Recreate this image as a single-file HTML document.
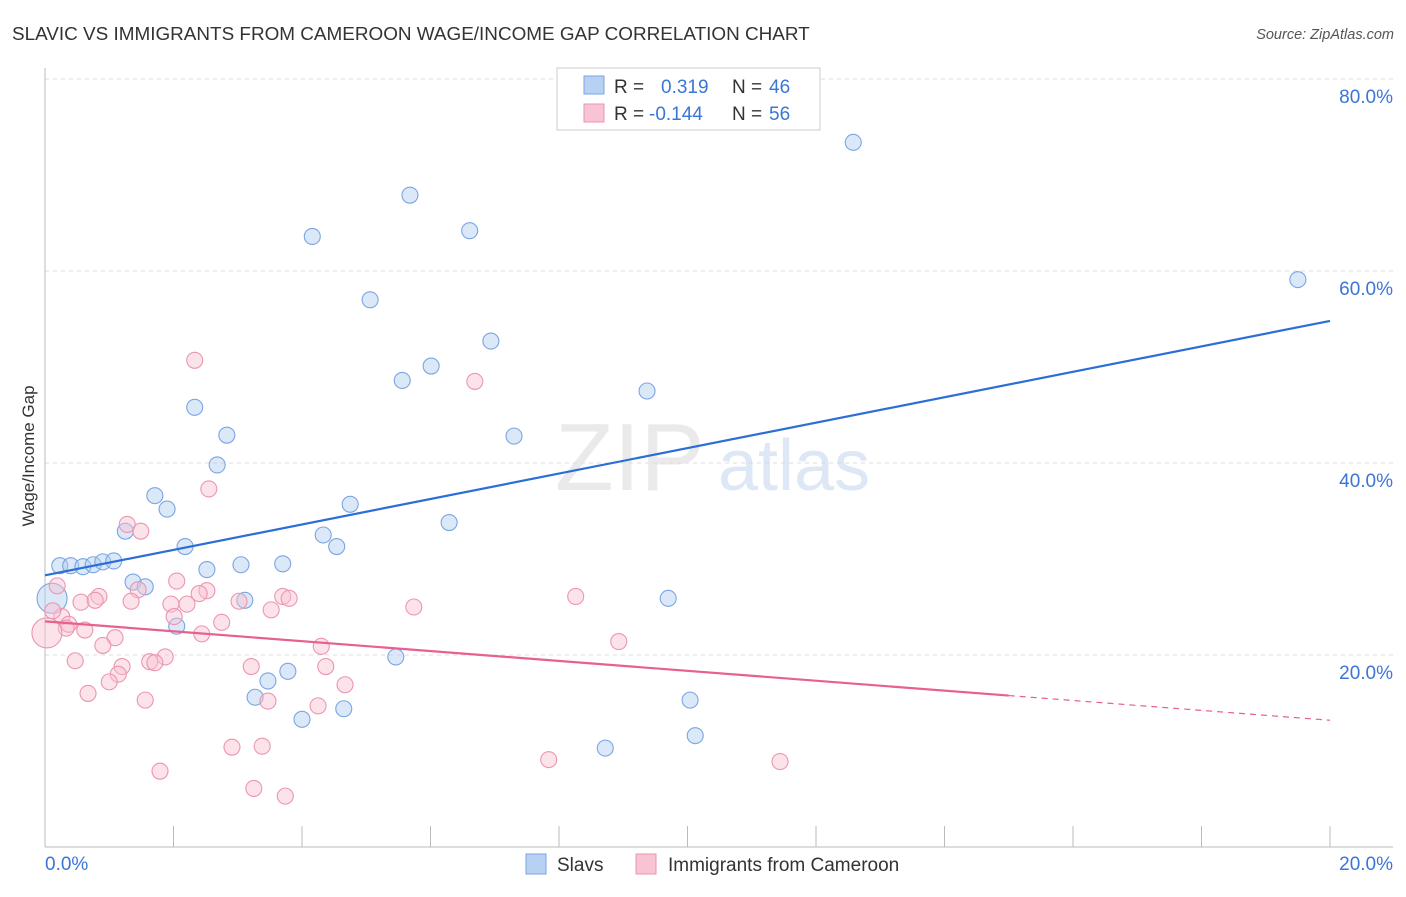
<!DOCTYPE html>
<html><head><meta charset="utf-8"><style>
body{margin:0;background:#fff;font-family:"Liberation Sans",sans-serif;}
svg text{font-family:"Liberation Sans",sans-serif;}
</style></head><body>
<svg id="chart" width="1406" height="892" xmlns="http://www.w3.org/2000/svg">
<text x="12" y="40" font-size="18.9" fill="#333">SLAVIC VS IMMIGRANTS FROM CAMEROON WAGE/INCOME GAP CORRELATION CHART</text>
<text x="1394" y="39" font-size="14.5" fill="#555" text-anchor="end" font-style="italic">Source: ZipAtlas.com</text>
<g id="grid"></g>
<g><text x="555" y="490" font-size="96" fill="#ddd" font-family="Liberation Serif" opacity="0.6">ZIP</text><text x="718" y="490" font-size="72" fill="#c7d8ef" opacity="0.6">atlas</text></g>
<text transform="translate(34,456) rotate(-90)" font-size="17" fill="#333" text-anchor="middle">Wage/Income Gap</text>
<g id="pts"></g>
<g id="trends"></g>
<g>
<rect x="557" y="68" width="263" height="62" fill="#fff" stroke="#ccc"/>
<rect x="584" y="76" width="20" height="18" fill="#b7d1f3" stroke="#7aa5e3"/>
<rect x="584" y="104" width="20" height="18" fill="#f8c4d3" stroke="#e996b0"/>
<text x="614" y="93" font-size="19" fill="#333">R =</text><text x="661" y="93" font-size="19" fill="#3a76d6">0.319</text>
<text x="732" y="93" font-size="19" fill="#333">N =</text><text x="769" y="93" font-size="19" fill="#3a76d6">46</text>
<text x="614" y="120" font-size="19" fill="#333">R =</text><text x="649" y="120" font-size="19" fill="#3a76d6">-0.144</text>
<text x="732" y="120" font-size="19" fill="#333">N =</text><text x="769" y="120" font-size="19" fill="#3a76d6">56</text>
</g>
<g>
<rect x="526" y="854" width="20" height="20" fill="#b7d1f3" stroke="#7aa5e3"/>
<text x="557" y="871" font-size="19" fill="#333">Slavs</text>
<rect x="636" y="854" width="20" height="20" fill="#f8c4d3" stroke="#e996b0"/>
<text x="668" y="871" font-size="19" fill="#333">Immigrants from Cameroon</text>
</g>
</svg>
<script>
const xTicks=[0,20];
const yTicks=[20,40,60,80];
const blueX=[12.58,19.50,5.68,4.16,6.61,5.06,6.94,5.56,6.01,9.37,2.33,2.83,7.30,2.68,1.71,1.90,4.75,6.29,1.25,4.33,4.54,2.18,0.23,0.40,0.59,0.75,0.90,1.07,3.70,3.05,2.52,1.37,1.56,3.11,9.70,2.05,5.46,3.78,3.47,3.27,10.04,4.65,4.00,10.12,8.72,0.11];
const blueY=[73.4,59.1,67.9,63.6,64.2,57.0,52.7,48.6,50.1,47.5,45.8,42.9,42.8,39.8,36.6,35.2,35.7,33.8,32.9,32.5,31.3,31.3,29.3,29.3,29.2,29.4,29.7,29.8,29.5,29.4,28.9,27.6,27.1,25.7,25.9,23.0,19.8,18.3,17.3,15.6,15.3,14.4,13.3,11.6,10.3,25.9];
const pinkX=[2.33,6.69,2.55,1.28,1.49,0.19,2.05,1.45,0.84,0.56,0.78,1.34,1.96,2.21,2.52,2.40,3.02,3.70,3.80,5.74,8.26,3.52,0.26,0.37,0.33,0.62,2.01,2.75,2.44,1.09,0.90,4.30,8.93,0.03,1.87,1.63,1.71,0.47,1.20,1.14,3.21,4.37,1.00,4.67,0.67,1.56,3.47,4.25,2.91,3.38,1.79,7.84,11.44,3.25,3.74,0.12];
const pinkY=[50.7,48.5,37.3,33.6,32.9,27.2,27.7,26.8,26.1,25.5,25.7,25.6,25.3,25.3,26.7,26.4,25.6,26.1,25.9,25.0,26.1,24.7,24.0,23.2,22.8,22.6,24.0,23.4,22.2,21.8,21.0,20.9,21.4,22.3,19.8,19.3,19.2,19.4,18.8,18.0,18.8,18.8,17.2,16.9,16.0,15.3,15.2,14.7,10.4,10.5,7.9,9.1,8.9,6.1,5.3,24.6];
const blueBig=45, pinkBig=33;
const blueTrend=[28.3,54.8];
const pinkTrend=[23.5,13.2];
const pinkSolidEnd=15.0;
const NS="http://www.w3.org/2000/svg";
const sx=v=>45+v*64.25, sy=v=>847-v*9.6;
function mk(t,a,p){const e=document.createElementNS(NS,t);for(const k in a)e.setAttribute(k,a[k]);p.appendChild(e);return e;}
const grid=document.getElementById('grid');
yTicks.forEach(v=>{
 const l=mk('line',{x1:45,x2:1393,y1:sy(v),y2:sy(v),stroke:'#ddd','stroke-dasharray':'4,4'},grid);
 
 
 const t=mk('text',{x:1393,y:sy(v)+24,'font-size':19,fill:'#3a76d6','text-anchor':'end'},grid);t.textContent=v.toFixed(1)+'%';
 
 
});
mk('line',{x1:45,x2:1393,y1:847,y2:847,stroke:'#bbb'},grid);
mk('line',{x1:45,x2:45,y1:68,y2:847,stroke:'#bbb'},grid);
for(let i=0;i<=10;i++){const x=sx(i*2);mk('line',{x1:x,x2:x,y1:826,y2:847,stroke:'#bbb'},grid);}
xTicks.forEach((v,i)=>{
 const t=mk('text',{x:i==0?45:1393,y:870,'font-size':19,fill:'#3a76d6','text-anchor':i==0?'start':'end'},grid);t.textContent=v.toFixed(1)+'%';
 
 
});
const pts=document.getElementById('pts');
function series(X,Y,fill,stroke,name,bigI){X.forEach((x,i)=>{
 const big=(i==bigI);
 const c=mk('circle',{cx:sx(x),cy:sy(Y[i]),r:big?15:8,fill:fill,'fill-opacity':0.45,stroke:stroke,'stroke-width':1.1},pts);
 
 
});}
series(blueX,blueY,'#b0cbf0','#7aa5e3','slavs-point',blueBig);
series(pinkX,pinkY,'#f8c0d1','#ec95b1','cameroon-point',pinkBig);
const tr=document.getElementById('trends');
const b=mk('line',{x1:sx(0),y1:sy(blueTrend[0]),x2:sx(20),y2:sy(blueTrend[1]),stroke:'#2b6fd6','stroke-width':2.2},tr);


const pAt=x=>pinkTrend[0]+(pinkTrend[1]-pinkTrend[0])*x/20;
const p=mk('line',{x1:sx(0),y1:sy(pAt(0)),x2:sx(pinkSolidEnd),y2:sy(pAt(pinkSolidEnd)),stroke:'#e8608e','stroke-width':2.2},tr);


const pd=mk('line',{x1:sx(pinkSolidEnd),y1:sy(pAt(pinkSolidEnd)),x2:sx(20),y2:sy(pAt(20)),stroke:'#e8608e','stroke-width':1.2,'stroke-dasharray':'6,5'},tr);


</script>
</body></html>
